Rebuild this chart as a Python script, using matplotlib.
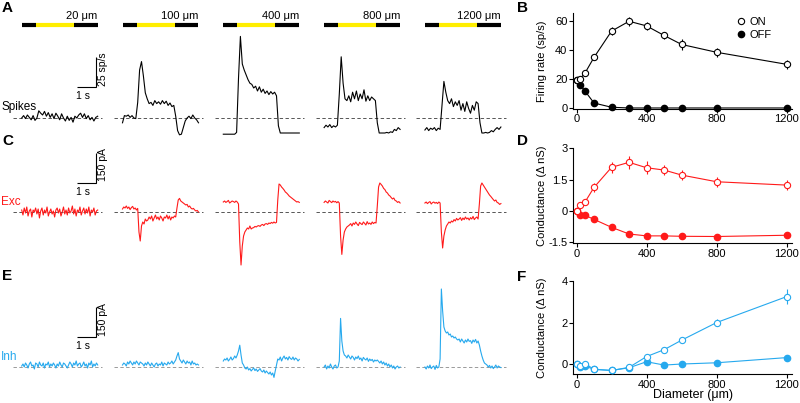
import numpy as np
import matplotlib
matplotlib.use("Agg")
import matplotlib.pyplot as plt
from matplotlib.lines import Line2D

plt.rcParams['font.family'] = ['Liberation Sans', 'DejaVu Sans']
plt.rcParams['font.size'] = 8

# ------------------------------------------------------------------ data
diam_labels = ['20 μm', '100 μm', '400 μm', '800 μm', '1200 μm']
sweep_dur = 4.0            # s
stim_on, stim_off = 0.74, 2.74   # s

# Spike rate traces (sp/s, relative to baseline), 41 samples over 4 s
spikes_20 = [0, 2, -0.5, 2.5, 0.5, -1.5, 2, -2, 0, 6, 4, 2.5, 5.5, 1.5, 4.5, 0.5, 3.5, -0.5, 4, 1.5,
             -1.5, 3.5, 0, -2.5, 1.5, -2, 0.5, -3.5, 1.5, 0, 2.5, 4, 0.5, 3.5, -0.5, 2, -1.5, 0.5, -2.5, 0.5, 1.5]
spikes_100 = [-4, 2, 1.5, 2.5, 0.5, 2, 0, -0.5, 13, 40, 47, 35, 21, 16, 12, 13, 10.5, 14.5, 12, 13.5,
              11.5, 14.5, 12, 14, 10.5, 12.5, 9.5, 10.5, 1.5, -10.5, -14, -13.5, -8, -2.5, 0, 1.5, -0.5, 2.5, 0, -1.5, -4]
spikes_400 = [-13.5, -13.5, -13.5, -13.5, -13.5, -13.5, -13.5, -12, 33, 68, 45, 40, 36, 32, 29, 28, 25, 26.5, 22.5, 26,
              21.5, 24, 20.5, 22.5, 19.5, 22, 20, 21.5, 18.5, -6.5, -12.5, -12.5, -12.5, -12.5, -12.5, -12.5, -12.5, -12.5, -12.5, -12.5, -12.5]
spikes_800 = [-8, -6, -7.5, -5.5, -8, -6.5, -7.5, -6, 20, 51, 29, 16, 14.5, 18.5, 13.5, 21.5, 16, 22.5, 14.5, 20,
              16, 23.5, 14, 18.5, 14.5, 17.5, 16, 14.5, -4, -12.5, -12.5, -12.5, -12.5, -12, -12.5, -11.5, -12, -9.5, -10.5, -8, -9.5]
spikes_1200 = [-10, -8, -10.5, -8.5, -9.5, -8, -10.5, -8.5, -9.5, 10.5, 30.5, 21.5, 14.5, 12, 16, 9.5, 13.5, 10.5, 14.5, 6.5,
               12, 5.5, 13.5, 8, 4, 10.5, 6.5, 13.5, 12, -4, -12.5, -12.5, -12, -12.5, -12, -10.5, -11.5, -9.5, -8, -9.5, -7.5]

# Excitatory currents (pA, relative to baseline), 61 samples over 4 s
exc_20 = [10, -15, 20, -5, 25, -20, 5, 15, -25, 10, 0, 20, -10, 15, -30, 5, 20, -15, 10, -5, 25, -20, 0, 15, -10, 5,
          -25, 10, 20, -5, 15, -20, 0, 25, -10, 10, -15, 20, -5, 5, 30, -10, 15, -20, 10, 0, 25, -15, 5, 20, -10, 15,
          -5, 25, -20, 10, 0, 20, -15, 5, 10]
exc_100 = [15, 25, 20, 30, 18, 25, 12, 22, 28, 15, 20, 10, 18,
           -100, -145, -70, -50, -60, -35, -45,
           -40, -25, -35, -20, -45, -30, -15, -35, -25, -40, -20, -30, -45, -25, -30, -15, -35, -20, -40, -25, -30, -20, -25,
           20, 60, 68, 55, 50, 45, 40, 35, 38, 25, 30, 20, 15, 18, 10, 5, 8, 0]
exc_400 = [50, 55, 48, 52, 58, 45, 50, 55, 52, 48, 55, 50, 40,
           -150, -265, -170, -120, -100, -90, -80, -85, -70,
           -85, -80, -78, -72, -75, -70, -68, -72, -65, -62, -68, -60, -58, -62, -55, -58, -52, -56, -50, -55, -52,
           60, 140, 135, 125, 118, 110, 100, 95, 88, 80, 75, 70, 65, 60, 55, 50, 52, 48]
exc_800 = [48, 55, 50, 45, 58, 52, 47, 55, 50, 53, 46, 52, 45,
           -120, -212, -140, -100, -85, -75, -70,
           -65, -58, -70, -55, -62, -50, -60, -68, -52, -58, -63, -50, -57, -65, -48, -60, -55, -62, -50, -58, -52, -55,
           30, 125, 145, 138, 130, 118, 112, 100, 95, 85, 80, 72, 65, 70, 58, 55, 48, 52, 45]
exc_1200 = [45, 50, 42, 48, 52, 40, 47, 50, 44, 48, 42, 50, 45,
            -100, -180, -120, -90, -70, -60, -50,
            -55, -45, -50, -38, -45, -32, -40, -35, -28, -42, -30, -38, -25, -35, -30, -40, -28, -35, -22, -38, -30, -25, -35,
            40, 130, 145, 135, 125, 115, 105, 95, 85, 78, 70, 62, 55, 60, 48, 45, 38, 42]

# Inhibitory currents (pA, relative to baseline), 61 samples over 4 s
inh_20 = [5, 15, 0, 20, 10, -5, 15, 25, 5, 10, -10, 20, 15, 0, 25, 10, 5, 20, -5, 15, 10, 25, 0, 15, 5, 20, 10, -5,
          15, 5, 25, 10, 0, 20, 15, 5, -5, 10, 25, 15, 0, 20, 10, 30, 5, 15, 20, 0, 10, 25, 5, 15, -5, 20, 10, 30, 0,
          15, 5, 20, 10]
inh_100 = [10, 20, 15, 5, 25, 15, 30, 20, 10, 25, 15, 30, 20, 10, 25, 20, 15, 5, 20, 10, 25, 15, 5, 20, 10, 0, 15,
           20, 5, 15, 10, 25, 5, 20, 15, 10, 25, 15, 20, 30, 15, 25, 35, 55, 72, 40, 30, 20, 35, 25, 15, 30, 20, 25,
           10, 30, 15, 20, 10, 15, 10]
inh_400 = [30, 40, 35, 45, 30, 38, 50, 35, 42, 55, 45, 60, 80, 109, 60, 20,
           10, -5, -10, 0, -15, -8, -20, -12, -5, -18, -10, -22, -15, -8, -20, -25, -15, -30, -20, -28, -35, -25, -40, -30, -52,
           -20, 10, 40,
           35, 50, 30, 45, 55, 40, 48, 35, 52, 42, 38, 50, 35, 45, 40, 30, 38]
inh_800 = [0, 10, -10, 5, -5, 15, 0, -10, 5, 10, -5, 0, 30, 243, 130, 80, 60,
           55, 45, 60, 50, 40, 55, 48, 35, 50, 42, 55, 38, 45, 30, 48, 40, 35, 45, 28, 40, 32, 38, 25, 35, 30,
           35, 28, 20, 30, 15, 25, 10, 20, 5, 15, 0, 10, -5, 5, -10, 0, 5, -5, 0]
inh_1200 = [0, -10, 5, -5, 10, -8, 0, 5, -12, 8, -5, 0, 40, 390, 280, 200, 180,
            170, 175, 160, 165, 150, 155, 145, 150, 140, 135, 140,
            125, 140, 130, 120, 135, 125, 140, 128, 132, 118, 135, 125, 138, 120, 130,
            110, 80, 55, 35, 20, 15, 10,
            0, 8, -5, 5, -8, 0, 10, -5, 5, 0, -3]

spike_traces = [spikes_20, spikes_100, spikes_400, spikes_800, spikes_1200]
exc_traces = [exc_20, exc_100, exc_400, exc_800, exc_1200]
inh_traces = [inh_20, inh_100, inh_400, inh_800, inh_1200]

# Summary data vs. stimulus diameter
diameters = [0, 20, 50, 100, 200, 300, 400, 500, 600, 800, 1200]
rate_on = [19.5, 20, 24.4, 34.9, 53, 59.8, 56.6, 50, 43.8, 38.4, 30.1]
rate_on_err = [1, 1, 1.5, 2, 2.5, 3, 2.5, 2.5, 3.5, 3, 3]
rate_off = [19.5, 16, 11.4, 3.4, 0.5, 0, 0, 0, 0, 0, 0]
exc_on = [0, 0.29, 0.45, 1.13, 2.09, 2.33, 2.07, 1.96, 1.72, 1.40, 1.24]
exc_on_err = [0.05, 0.1, 0.1, 0.2, 0.25, 0.3, 0.3, 0.25, 0.25, 0.25, 0.25]
exc_off = [0, -0.19, -0.21, -0.40, -0.78, -1.10, -1.19, -1.19, -1.21, -1.22, -1.16]
inh_on = [0, -0.08, 0.0, -0.25, -0.31, -0.16, 0.36, 0.69, 1.15, 2.0, 3.25]
inh_on_err = [0.05, 0.05, 0.05, 0.05, 0.05, 0.1, 0.1, 0.1, 0.1, 0.15, 0.35]
inh_off = [0, -0.13, -0.10, -0.26, -0.31, -0.18, 0.11, -0.05, 0.0, 0.06, 0.31]

# ------------------------------------------------------------------ style
RED = '#ff1a1a'
BLUE = '#26a9ee'
YELLOW = '#ffee00'

W, H = 800, 403
fig = plt.figure(figsize=(W / 100, H / 100), dpi=100)


def px_axes(x0, y0, x1, y1):
    return fig.add_axes([x0 / W, 1 - y1 / H, (x1 - x0) / W, (y1 - y0) / H])


PXS = 19.0            # px per second in the trace rows
X0 = 21.7             # px where first sweep starts
COL = 100.8 / PXS     # column spacing in seconds
AX_X1 = 530


def trace_axes(ytop, ybot, base_py, ppu):
    ax = px_axes(0, ytop, AX_X1, ybot)
    ax.set_xlim(-X0 / PXS, (AX_X1 - X0) / PXS)
    ax.set_ylim((base_py - ybot) / ppu, (base_py - ytop) / ppu)
    ax.axis('off')
    conv = lambda py: (base_py - py) / ppu
    return ax, conv


def draw_traces(ax, traces, color, dash_color):
    for i, vals in enumerate(traces):
        off = i * COL
        t = np.linspace(0, sweep_dur, len(vals)) + off
        ax.plot([off - 0.45, off + sweep_dur + 0.25], [0, 0], ls=(0, (3.5, 2.5)),
                color=dash_color, lw=0.7, zorder=1)
        ax.plot(t, vals, color=color, lw=0.8, zorder=2, clip_on=False)


def scalebar(ax, conv, py_bot, ylen, label, py_lab):
    xe = (96 - X0) / PXS
    yb = conv(py_bot)
    ax.plot([xe - 1, xe, xe], [yb, yb, yb + ylen], color='k', lw=0.8,
            solid_joinstyle='miter', solid_capstyle='butt')
    ax.text((103 - X0) / PXS, conv(py_lab), label, rotation=90, ha='center',
            va='center', fontsize=7.5)
    ax.text((83 - X0) / PXS, conv(py_bot + 9), '1 s', ha='center', va='center',
            fontsize=7.5)


# ---- Row A: spikes
axA, cA = trace_axes(0, 140, 118, 1.2)
draw_traces(axA, spike_traces, 'black', '#555555')
for i, lab in enumerate(diam_labels):
    off = i * COL
    yb = cA(25.3)
    axA.plot([off, off + stim_on], [yb, yb], color='black', lw=3, solid_capstyle='butt')
    axA.plot([off + stim_on, off + stim_off], [yb, yb], color=YELLOW, lw=3, solid_capstyle='butt')
    axA.plot([off + stim_off, off + sweep_dur], [yb, yb], color='black', lw=3, solid_capstyle='butt')
    axA.text(off + sweep_dur, cA(16), lab, ha='right', va='center', fontsize=8)
scalebar(axA, cA, 87, 25, '25 sp/s', 69)
axA.text(-X0 / PXS + 2 / PXS, cA(107), 'Spikes', ha='left', va='center', fontsize=8.5)

# ---- Row C: excitation
axC, cC = trace_axes(140, 270, 212, 0.2)
draw_traces(axC, exc_traces, RED, '#555555')
scalebar(axC, cC, 183, 150, '150 pA', 165)
axC.text(-X0 / PXS + 1 / PXS, cC(202), 'Exc', ha='left', va='center', fontsize=8.5, color=RED)

# ---- Row E: inhibition
axE, cE = trace_axes(270, 403, 367, 0.2)
draw_traces(axE, inh_traces, BLUE, '#9a9a9a')
scalebar(axE, cE, 337, 150, '150 pA', 320)
axE.text(-X0 / PXS + 1 / PXS, cE(357), 'Inh', ha='left', va='center', fontsize=8.5, color=BLUE)


# ---- Right panels
def right_axes(ytop, ybot, ylim, yticks, yticklabels, ylabel):
    ax = px_axes(573, ytop, 792, ybot)
    ax.set_xlim(-20, 1230)
    ax.set_ylim(*ylim)
    ax.spines[['top', 'right']].set_visible(False)
    for s in ('left', 'bottom'):
        ax.spines[s].set_linewidth(0.8)
    ax.set_xticks([0, 400, 800, 1200])
    ax.set_yticks(yticks)
    ax.set_yticklabels(yticklabels)
    ax.tick_params(direction='out', length=3, width=0.8, labelsize=8, pad=1.0)
    ax.set_ylabel(ylabel, fontsize=8)
    ax.yaxis.set_label_coords(-0.118, 0.5)
    return ax


def summary(ax, on, on_err, off, color):
    ax.plot(diameters, off, '-o', color=color, lw=0.8, ms=4.5, mfc=color, mec=color,
            clip_on=False, zorder=3)
    ax.errorbar(diameters, on, yerr=on_err, fmt='-o', color=color, lw=0.8, ms=4.5,
                mfc='white', mec=color, mew=0.8, elinewidth=0.8, capsize=0,
                clip_on=False, zorder=4)


axB = right_axes(13, 108.7, (-0.5, 65.5), [0, 20, 40, 60], ['0', '20', '40', '60'],
                 'Firing rate (sp/s)')
summary(axB, rate_on, rate_on_err, rate_off, 'black')
leg_handles = [Line2D([], [], ls='none', marker='o', ms=4.5, mfc='white', mec='black', mew=0.8),
               Line2D([], [], ls='none', marker='o', ms=4.5, mfc='black', mec='black')]
axB.legend(leg_handles, ['ON', 'OFF'], loc='upper left',
           bbox_to_anchor=(0.75, 0.96), frameon=False, fontsize=8, handlelength=0.6,
           handletextpad=0.5, labelspacing=0.3, borderpad=0, borderaxespad=0)

axD = right_axes(147.9, 243.4, (-1.55, 3.02), [-1.5, 0, 1.5, 3], ['-1.5', '0', '1.5', '3'],
                 'Conductance (Δ nS)')
summary(axD, exc_on, exc_on_err, exc_off, RED)

axF = right_axes(280.6, 374.4, (-0.5, 4.02), [0, 2, 4], ['0', '2', '4'],
                 'Conductance (Δ nS)')
summary(axF, inh_on, inh_on_err, inh_off, BLUE)
axF.set_xlabel('Diameter (μm)', fontsize=9)
axF.xaxis.set_label_coords(0.55, -0.16)

# ---- Panel letters
for lab, x, y in [('A', 2, 8), ('B', 517, 8), ('C', 2, 141), ('D', 517, 141),
                  ('E', 2, 276), ('F', 517, 277)]:
    fig.text(x / W, 1 - y / H, lab, fontsize=11, fontweight='bold', ha='left', va='center')

fig.savefig('out.png', dpi=100)
